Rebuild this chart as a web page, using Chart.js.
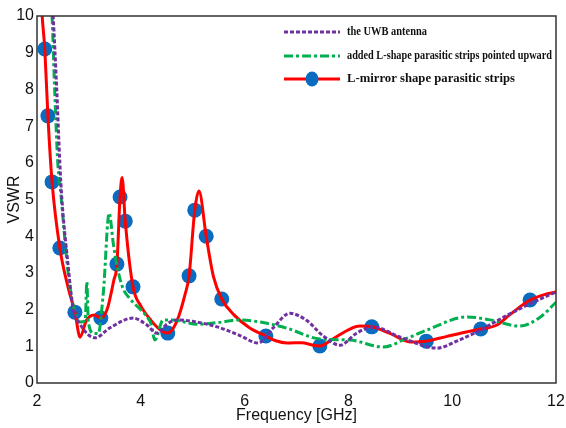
<!DOCTYPE html>
<html>
<head>
<meta charset="utf-8">
<script src="https://cdn.jsdelivr.net/npm/chart.js@4"></script>
<style>
  html, body { margin: 0; padding: 0; background: #fff; }
  #wrap { width: 566px; height: 428px; }
</style>
</head>
<body>
<div id="wrap"><canvas id="chart" width="566" height="428"></canvas></div>
<script>
// the UWB antenna
const uwbFreq = [2.28, 2.31, 2.38, 2.44, 2.48, 2.6, 2.69, 2.83, 3.12, 3.4, 3.85, 4.1, 4.31, 4.5, 4.7, 5.0, 5.47, 5.9, 6.26, 6.55, 6.87, 7.2, 7.5, 7.84, 8.15, 8.47, 9.0, 9.71, 10.1, 10.54, 11.0, 11.56, 12.0];
const uwbVswr = [10.5, 10, 8, 6, 5, 3.2, 2.07, 1.6, 1.23, 1.5, 1.77, 1.6, 1.36, 1.6, 1.72, 1.68, 1.53, 1.3, 1.09, 1.5, 1.9, 1.7, 1.3, 1.03, 1.35, 1.53, 1.25, 0.95, 1.15, 1.44, 1.8, 2.2, 2.48];

// added L-shape parasitic strips pointed upward
const upFreq = [2.25, 2.29, 2.34, 2.4, 2.44, 2.6, 2.7, 2.83, 2.93, 2.96, 2.99, 3.1, 3.18, 3.28, 3.39, 3.47, 3.54, 3.65, 3.79, 4.12, 4.2, 4.27, 4.43, 4.6, 5.08, 5.5, 5.91, 6.3, 6.8, 7.45, 8.03, 8.67, 9.1, 9.51, 10.28, 10.73, 11.3, 11.7, 12.0];
const upVswr = [11, 10, 8, 6, 5.45, 3.0, 2.1, 1.66, 1.7, 2.75, 1.65, 1.35, 1.35, 2.5, 4.63, 3.8, 3.2, 2.6, 2.3, 1.8, 1.6, 1.17, 1.72, 1.72, 1.6, 1.65, 1.72, 1.66, 1.5, 1.2, 1.17, 0.98, 1.2, 1.44, 1.8, 1.72, 1.55, 1.8, 2.2];

// L-mirror shape parasitic strips
const mirFreq = [2.05, 2.1, 2.15, 2.21, 2.29, 2.44, 2.6, 2.73, 2.83, 2.95, 3.1, 3.23, 3.35, 3.48, 3.54, 3.6, 3.64, 3.7, 3.85, 4.0, 4.2, 4.4, 4.52, 4.7, 4.85, 4.93, 5.04, 5.12, 5.26, 5.4, 5.56, 5.8, 6.1, 6.41, 6.6, 6.82, 7.1, 7.32, 7.45, 7.7, 8.0, 8.22, 8.45, 8.8, 9.19, 9.5, 9.9, 10.2, 10.55, 10.86, 11.1, 11.5, 11.8, 12.0];
const mirVswr = [11.5, 10, 9.1, 7.28, 5.48, 3.68, 2.6, 1.93, 1.25, 1.7, 1.85, 1.77, 2.0, 2.8, 3.24, 5.07, 5.6, 4.41, 2.62, 2.1, 1.7, 1.42, 1.36, 1.7, 2.4, 2.92, 4.71, 5.23, 4.0, 2.9, 2.29, 1.85, 1.5, 1.28, 1.15, 1.09, 1.1, 1.03, 1.01, 1.2, 1.45, 1.55, 1.53, 1.35, 1.12, 1.14, 1.27, 1.37, 1.47, 1.58, 1.85, 2.26, 2.42, 2.48];

// marker positions on the L-mirror curve
const markFreq = [2.15, 2.21, 2.29, 2.44, 2.73, 3.23, 3.54, 3.6, 3.7, 3.85, 4.52, 4.93, 5.04, 5.26, 5.56, 6.41, 7.45, 8.45, 9.5, 10.55, 11.5];
const markVswr = [9.1, 7.28, 5.48, 3.68, 1.93, 1.77, 3.24, 5.07, 4.41, 2.62, 1.36, 2.92, 4.71, 4.0, 2.29, 1.28, 1.01, 1.53, 1.14, 1.47, 2.26];

const xTicks = [2, 4, 6, 8, 10, 12];
const legendNames = ["the UWB antenna", "added L-shape parasitic strips pointed upward", "L-mirror shape parasitic strips"];

const PURPLE = "#7030a0", GREEN = "#00b050", RED = "#ff0000", BLUE = "#0a6cc0";
const tickFont = { family: "'Liberation Sans Narrow', 'Liberation Sans', Arial", size: 16 };

function pts(xs, ys) { return xs.map((x, i) => ({ x: x, y: ys[i] })); }

const frameAndLegend = {
  id: "frameAndLegend",
  afterDraw(chart) {
    const ctx = chart.ctx, a = chart.chartArea;
    ctx.save();
    ctx.strokeStyle = "#333";
    ctx.lineWidth = 1.5;
    ctx.strokeRect(a.left, a.top, a.right - a.left, a.bottom - a.top);

    const rows = [32, 56, 79];
    const styles = [
      { color: PURPLE, dash: [4, 2] },
      { color: GREEN, dash: [9, 3, 3, 3] },
      { color: RED, dash: [] }
    ];
    const widths = [80, 205, 168];
    ctx.lineWidth = 3;
    rows.forEach((y, i) => {
      ctx.strokeStyle = styles[i].color;
      ctx.setLineDash(styles[i].dash);
      ctx.beginPath();
      ctx.moveTo(284, y);
      ctx.lineTo(340, y);
      ctx.stroke();
      ctx.setLineDash([]);
      if (i === 2) {
        ctx.fillStyle = BLUE;
        ctx.beginPath();
        ctx.ellipse(312, y, 6.5, 7.5, 0, 0, Math.PI * 2);
        ctx.fill();
      }
      ctx.fillStyle = "#111";
      ctx.font = "bold 13px 'Liberation Serif', 'Times New Roman', serif";
      ctx.textBaseline = "middle";
      ctx.fillText(legendNames[i], 347, y, widths[i]);
    });
    ctx.restore();
  }
};

const config = {
  type: "line",
  data: {
    datasets: [
      {
        label: legendNames[0],
        data: pts(uwbFreq, uwbVswr),
        borderColor: PURPLE,
        borderWidth: 3,
        borderDash: [4, 2],
        pointRadius: 0,
        cubicInterpolationMode: "monotone",
      },
      {
        label: legendNames[1],
        data: pts(upFreq, upVswr),
        borderColor: GREEN,
        borderWidth: 3,
        borderDash: [9, 3, 3, 3],
        pointRadius: 0,
        cubicInterpolationMode: "monotone",
      },
      {
        label: legendNames[2],
        data: pts(mirFreq, mirVswr),
        borderColor: RED,
        borderWidth: 3,
        pointRadius: 0,
        cubicInterpolationMode: "monotone",
      },
      {
        label: "markers",
        data: pts(markFreq, markVswr),
        showLine: false,
        pointRadius: 7.5,
        pointBackgroundColor: BLUE,
        pointBorderColor: BLUE,
        pointBorderWidth: 0,
      },
    ],
  },
  options: {
    responsive: false,
    animation: false,
    layout: { padding: { top: 16, right: 10, left: 0, bottom: 0 } },
    plugins: {
      legend: { display: false },
      tooltip: { enabled: false },
    },
    scales: {
      x: {
        type: "linear",
        min: 2,
        max: 12,
        afterBuildTicks(scale) { scale.ticks = xTicks.map(v => ({ value: v })); },
        afterFit(scale) {
          scale.height = 45;
          scale.paddingLeft = 0;
          scale.paddingRight = 0;
        },
        grid: { display: false, drawTicks: false },
        border: { display: false },
        ticks: { color: "#111", font: tickFont, padding: 9, maxRotation: 0 },
        title: { display: true, text: "Frequency [GHz]", color: "#111", font: tickFont, padding: { top: -4, bottom: 3 } },
      },
      y: {
        min: 0,
        max: 10,
        afterFit(scale) {
          scale.width = 37;
          scale.paddingTop = 0;
          scale.paddingBottom = 0;
        },
        grid: { display: false, drawTicks: false },
        border: { display: false },
        ticks: { stepSize: 1, color: "#111", font: tickFont, padding: 3 },
        title: { display: true, text: "VSWR", color: "#111", font: tickFont, padding: { top: 5, bottom: 0 } },
      },
    },
  },
  plugins: [frameAndLegend],
};

const myChart = new Chart(document.getElementById("chart"), config);
</script>
</body>
</html>
